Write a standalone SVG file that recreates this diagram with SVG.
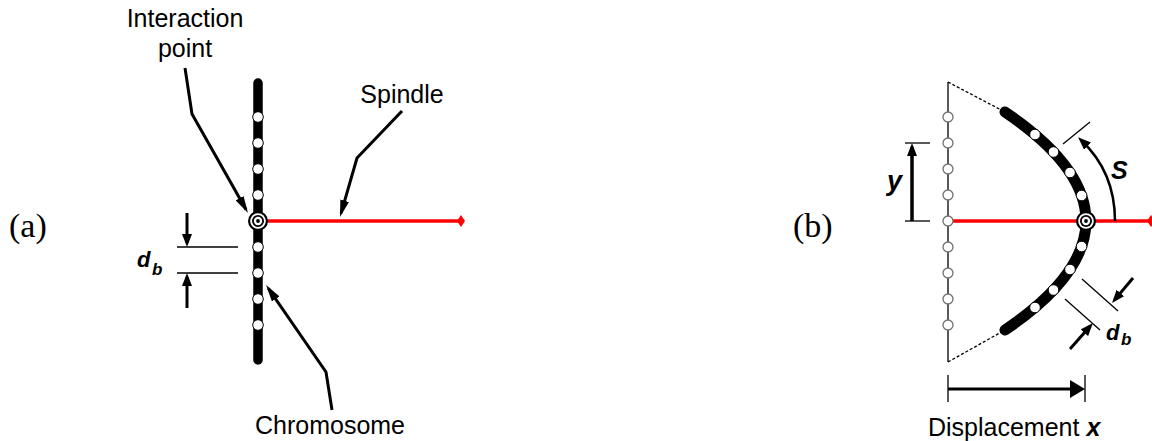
<svg xmlns="http://www.w3.org/2000/svg" width="1152" height="441" viewBox="0 0 1152 441">
<defs>
<style>
.txt{font-family:"Liberation Sans",Arial,sans-serif;font-size:25px;fill:#000}
.lbl{font-family:"Liberation Serif","Times New Roman",serif;font-size:34px;fill:#000}
.bi{font-family:"Liberation Sans",Arial,sans-serif;font-weight:bold;font-style:italic;fill:#000}
.lead{fill:none;stroke:#000;stroke-width:3;stroke-linejoin:miter}
.tick{stroke:#000;stroke-width:1.3;fill:none}
.dash{stroke:#000;stroke-width:1.3;stroke-dasharray:3 2;fill:none}
.spindle{stroke:#f00;stroke-width:3.5}
.chrom{stroke:#000;stroke-width:11;stroke-linecap:round;fill:none}
.bead{fill:#fff;stroke:#000;stroke-width:1}
.gbead{fill:#fff;stroke:#707070;stroke-width:1.3}
</style>
<marker id="lead" markerUnits="userSpaceOnUse" markerWidth="17" markerHeight="9" refX="13" refY="4.5" orient="auto"><path d="M0,0 L17,4.5 L0,9 Z" fill="#000"/></marker>
<marker id="dim" markerUnits="userSpaceOnUse" markerWidth="13" markerHeight="10" refX="9" refY="5" orient="auto"><path d="M0,0 L13,5 L0,10 Z" fill="#000"/></marker>
<marker id="big" markerUnits="userSpaceOnUse" markerWidth="15" markerHeight="18" refX="11" refY="9" orient="auto"><path d="M0,0 L15,9 L0,18 Z" fill="#000"/></marker>
<g id="ip"><circle r="10" fill="#000"/><circle r="7.8" fill="#fff"/><circle r="6" fill="#000"/><circle r="4.2" fill="#fff"/><circle r="1.9" fill="#000"/></g>
</defs>
<rect width="1152" height="441" fill="#fff"/>

<!-- Panel (a) -->
<g id="label-a"><text class="lbl" x="9" y="237">(a)</text></g>
<g id="spindle-a">
<line class="spindle" x1="258" y1="221" x2="460" y2="221"/>
<polygon points="461,215 465,221 461,227 457,221" fill="#f00"/>
</g>
<g id="chromosome-a">
<line class="chrom" x1="258" y1="83" x2="258" y2="360" style="stroke-width:9.5"/>
<circle class="bead" cx="258" cy="117" r="5.3"/>
<circle class="bead" cx="258" cy="143" r="5.3"/>
<circle class="bead" cx="258" cy="169" r="5.3"/>
<circle class="bead" cx="258" cy="195" r="5.3"/>
<circle class="bead" cx="258" cy="247" r="5.3"/>
<circle class="bead" cx="258" cy="273" r="5.3"/>
<circle class="bead" cx="258" cy="299" r="5.3"/>
<circle class="bead" cx="258" cy="325" r="5.3"/>
</g>
<g id="interaction-a"><use href="#ip" x="258" y="221"/></g>
<g id="text-a">
<text class="txt" x="185" y="27" text-anchor="middle">Interaction</text>
<text class="txt" x="185" y="57" text-anchor="middle">point</text>
<text class="txt" x="402" y="103" text-anchor="middle">Spindle</text>
<text class="txt" x="330" y="434" text-anchor="middle">Chromosome</text>
<text class="bi" x="137" y="267" font-size="22">d</text>
<text class="bi" x="152" y="275" font-size="17">b</text>
</g>

<!-- Panel (b) -->
<g id="label-b"><text class="lbl" x="793" y="237">(b)</text></g>
<g id="spindle-b">
<line class="spindle" x1="953" y1="221" x2="1152" y2="221"/>
<polygon points="1151,215 1155,221 1151,227 1147,221" fill="#f00"/>
</g>
<g id="original-b">
<line class="tick" x1="948" y1="82" x2="948" y2="362"/>
<line class="dash" x1="948" y1="82" x2="1005" y2="112"/>
<line class="dash" x1="948" y1="362" x2="1005" y2="330"/>
<circle class="gbead" cx="948" cy="117" r="5"/>
<circle class="gbead" cx="948" cy="143" r="5"/>
<circle class="gbead" cx="948" cy="169" r="5"/>
<circle class="gbead" cx="948" cy="195" r="5"/>
<circle class="gbead" cx="948" cy="221" r="5"/>
<circle class="gbead" cx="948" cy="247" r="5"/>
<circle class="gbead" cx="948" cy="273" r="5"/>
<circle class="gbead" cx="948" cy="299" r="5"/>
<circle class="gbead" cx="948" cy="325" r="5"/>
</g>
<g id="chromosome-b">
<path class="chrom" d="M1005,112 Q1167,221 1005,330"/>
<circle class="bead" cx="1035" cy="134.5" r="5.3"/>
<circle class="bead" cx="1053.5" cy="152" r="5.3"/>
<circle class="bead" cx="1070" cy="172.5" r="5.3"/>
<circle class="bead" cx="1081.6" cy="195.5" r="5.3"/>
<circle class="bead" cx="1081.6" cy="246.5" r="5.3"/>
<circle class="bead" cx="1070" cy="269.5" r="5.3"/>
<circle class="bead" cx="1053.5" cy="290" r="5.3"/>
<circle class="bead" cx="1035" cy="307.5" r="5.3"/>
</g>
<g id="interaction-b"><use href="#ip" x="1086" y="221"/></g>
<g id="text-b">
<text class="bi" x="887" y="190" font-size="27">y</text>
<text class="bi" x="1111" y="179" font-size="25">S</text>
<text class="bi" x="1106" y="340" font-size="22">d</text>
<text class="bi" x="1121" y="345" font-size="17">b</text>
<text class="txt" x="928" y="436">Displacement <tspan class="bi">x</tspan></text>
</g>

<!-- Connectors -->
<g id="connectors">
<polyline class="lead" points="185,68 192,114 246,209.5" marker-end="url(#lead)"/>
<polyline class="lead" points="402,111 357,158 341.1,213.2" marker-end="url(#lead)"/>
<polyline class="lead" points="332,410 326,372 268.3,288.3" marker-end="url(#lead)"/>
<line class="tick" x1="177" y1="247" x2="238" y2="247"/>
<line class="tick" x1="177" y1="273" x2="238" y2="273"/>
<line class="lead" x1="187" y1="213" x2="187" y2="243" marker-end="url(#dim)"/>
<line class="lead" x1="187" y1="308" x2="187" y2="277" marker-end="url(#dim)"/>
<line class="tick" x1="905" y1="143" x2="930" y2="143"/>
<line class="tick" x1="905" y1="221" x2="930" y2="221"/>
<line class="lead" x1="912" y1="221" x2="912" y2="147" marker-end="url(#dim)" style="stroke-width:3.5"/>
<line class="tick" x1="1063" y1="144" x2="1090" y2="122"/>
<path class="lead" d="M1115,221 Q1115,172 1081,140" marker-end="url(#dim)" style="stroke-width:2.5"/>
<line class="tick" x1="1082" y1="279" x2="1118" y2="311"/>
<line class="tick" x1="1065" y1="299" x2="1100" y2="330"/>
<line class="lead" x1="1133" y1="278" x2="1114.6" y2="299.9" marker-end="url(#dim)"/>
<line class="lead" x1="1070" y1="349" x2="1090.3" y2="326" marker-end="url(#dim)"/>
<line class="tick" x1="948" y1="375" x2="948" y2="402"/>
<line class="tick" x1="1085" y1="375" x2="1085" y2="402"/>
<line class="lead" x1="948" y1="389" x2="1081" y2="389" marker-end="url(#big)"/>
</g>
</svg>
